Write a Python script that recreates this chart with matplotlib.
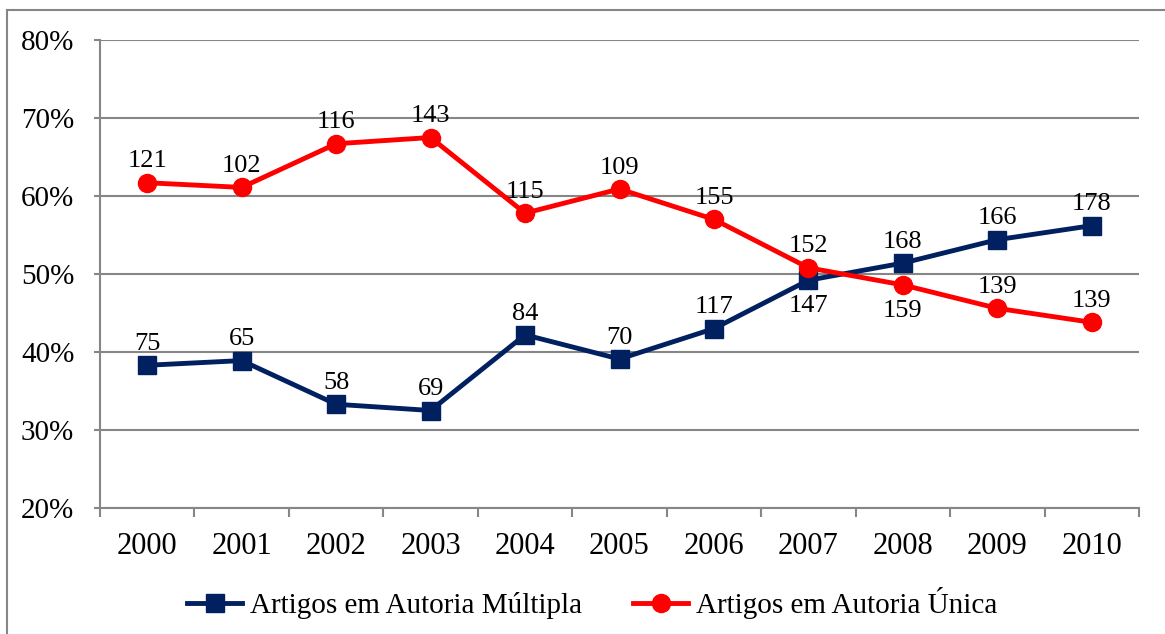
import matplotlib
matplotlib.use("Agg")
import matplotlib.pyplot as plt
from matplotlib.patches import Rectangle

years = ["2000", "2001", "2002", "2003", "2004", "2005", "2006", "2007", "2008", "2009", "2010"]
multi_pct = [38.3, 38.9, 33.3, 32.5, 42.2, 39.1, 43.0, 49.2, 51.4, 54.4, 56.2]
single_pct = [61.7, 61.1, 66.7, 67.5, 57.8, 60.9, 57.0, 50.8, 48.6, 45.6, 43.8]
multi_n = [75, 65, 58, 69, 84, 70, 117, 147, 168, 166, 178]
single_n = [121, 102, 116, 143, 115, 109, 155, 152, 159, 139, 139]
multi_label_below = [False] * 7 + [True, False, False, False]
single_label_below = [False] * 8 + [True, False, False]
yticks = [20, 30, 40, 50, 60, 70, 80]
ytick_labels = ["20%", "30%", "40%", "50%", "60%", "70%", "80%"]
series_names = ["Artigos em Autoria Múltipla", "Artigos em Autoria Única"]

plt.rcParams["font.family"] = ["Liberation Serif", "DejaVu Serif"]

W, H = 1165, 634
fig = plt.figure(figsize=(W / 100, H / 100), dpi=100)
ax = fig.add_axes([100 / W, 1 - 508 / H, (1139 - 100) / W, (508 - 40) / H])

grid_c = "#868686"
navy = "#002060"
red = "#FF0000"

x = list(range(len(years)))
ax.plot(x, multi_pct, color=navy, lw=3.5, marker="s", ms=12.5, zorder=3,
        label=series_names[0])
ax.plot(x, single_pct, color=red, lw=3.5, marker="o", ms=13, zorder=4,
        label=series_names[1])

def add_labels(vals, counts, below_flags):
    for xi, v, n, below in zip(x, vals, counts, below_flags):
        ax.annotate(str(n), (xi, v), xytext=(0, -23 if below else 11),
                    textcoords="offset points", ha="center", va="baseline",
                    fontsize=19, zorder=5)

add_labels(multi_pct, multi_n, multi_label_below)
add_labels(single_pct, single_n, single_label_below)

ax.set_xlim(-0.5, len(years) - 0.5)
ax.set_ylim(20, 80)
ax.set_yticks(yticks)
ax.set_yticklabels(ytick_labels, fontsize=21)
ax.set_xticks(x)
ax.set_xticklabels(years, fontsize=22)
ax.set_xticks([i - 0.5 for i in range(len(years) + 1)], minor=True)
ax.tick_params(axis="x", which="major", length=0, pad=17)
ax.tick_params(axis="x", which="minor", length=6.5, width=1.5, color=grid_c, direction="out")
ax.tick_params(axis="y", length=4, width=1.5, color=grid_c, direction="out", pad=14.5)

ax.grid(axis="y", color=grid_c, lw=1.5, zorder=0)
ax.set_axisbelow(True)
for s in ["top", "right"]:
    ax.spines[s].set_visible(False)
for s in ["left", "bottom"]:
    ax.spines[s].set_color(grid_c)
    ax.spines[s].set_linewidth(1.5)

leg = fig.legend(loc="center", bbox_to_anchor=(592 / W, 1 - 603 / H), ncol=2,
                 frameon=False, fontsize=21, handlelength=1.9, columnspacing=1.75,
                 handletextpad=0.25)

fig.patches.append(Rectangle((7 / W, -0.1), 1.2, (1 - 10 / H) + 0.1,
                             transform=fig.transFigure, fill=False,
                             edgecolor=grid_c, lw=1.5))

fig.savefig("out.png", dpi=100, facecolor="white")
